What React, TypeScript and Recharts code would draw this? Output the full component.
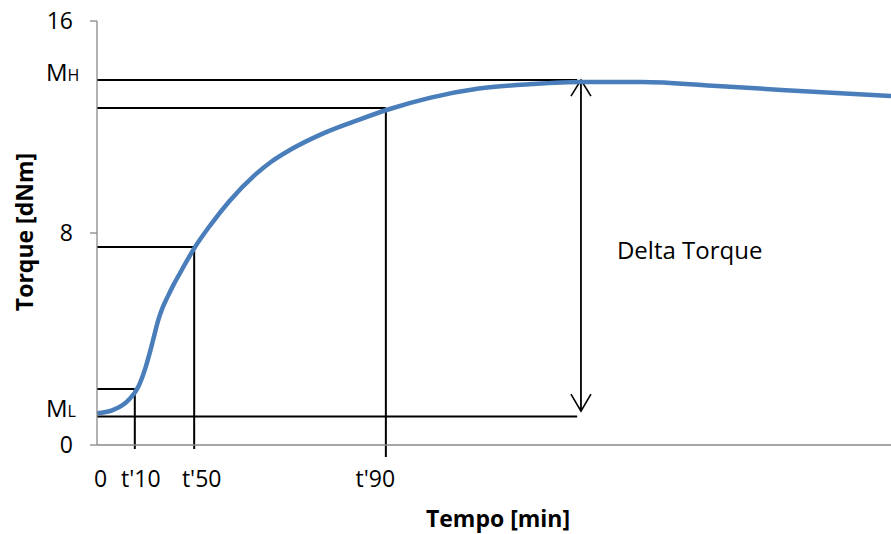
import { LineChart, Line, XAxis, YAxis, ReferenceLine } from 'recharts';

// cure curve: time [min] vs torque [dNm]
const TIME = [0, 0.4, 0.83, 1.09, 1.29, 1.46, 1.54, 1.62, 1.74, 1.87, 2.03, 2.2, 2.57, 3.0, 3.5, 4.2, 4.6, 5.1, 6.0, 6.9, 7.7, 8.8, 10.1, 11.5, 12.8, 14.4, 16.4, 18.1, 21];
const TORQUE = [1.2, 1.31, 1.69, 2.19, 2.95, 3.83, 4.28, 4.71, 5.2, 5.6, 6.06, 6.5, 7.42, 8.3, 9.2, 10.22, 10.68, 11.13, 11.77, 12.26, 12.66, 13.1, 13.45, 13.62, 13.7, 13.7, 13.55, 13.4, 13.17];

// characteristic points
const ML = 1.08;
const MH = 13.77;
const TQ10 = 2.11;
const TQ50 = 7.47;
const TQ90 = 12.72;
const T10 = 1.0;
const T50 = 2.57;
const T90 = 7.64;
const T_MH = 12.7;
const T_DELTA = 12.8;
const DELTA_LOW = 1.28;

const X_TICKS = [0, T10, T50, T90];
const X_LABELS = ['0', "t'10", "t'50", "t'90"];
const Y_TICKS = [0, ML, 8, MH, 16];

const FONT = '"Open Sans", sans-serif';
const AXIS = '#898989';

const data = TIME.map((t, i) => ({ t, torque: TORQUE[i] }));

// horizontal / vertical guide lines
const segments = [
  [{ x: 0, y: MH }, { x: T_MH, y: MH }],
  [{ x: 0, y: ML }, { x: T_MH, y: ML }],
  [{ x: 0, y: TQ90 }, { x: T90, y: TQ90 }],
  [{ x: T90, y: TQ90 }, { x: T90, y: -0.45 }],
  [{ x: 0, y: TQ50 }, { x: T50, y: TQ50 }],
  [{ x: T50, y: TQ50 }, { x: T50, y: -0.15 }],
  [{ x: 0, y: TQ10 }, { x: T10, y: TQ10 }],
  [{ x: T10, y: TQ10 }, { x: T10, y: -0.15 }],
];

const labelShift = [3.5, 6, 7.5, -10.5];

const XTick = (props: any) => {
  const { x, y, index } = props;
  return (
    <text x={x + labelShift[index]} y={y + 42} textAnchor="middle" fontSize={23} fontFamily={FONT} fill="#000">
      {X_LABELS[index]}
    </text>
  );
};

const YTick = (props: any) => {
  const { x, y, payload } = props;
  const v = payload.value;
  if (v === ML || v === MH) {
    return (
      <text x={x - 51} y={y + 1} fontFamily={FONT} fill="#000">
        <tspan fontSize={24}>M</tspan>
        <tspan fontSize={16}>{v === ML ? 'L' : 'H'}</tspan>
      </text>
    );
  }
  return (
    <g>
      <line x1={x - 7} x2={x} y1={y} y2={y} stroke={AXIS} strokeWidth={1.3} />
      <text x={x - 24} y={y} dy="0.36em" textAnchor="end" fontSize={23} fontFamily={FONT} fill="#000">
        {v}
      </text>
    </g>
  );
};

const DeltaArrow = (props: any) => {
  const { x1, y1, y2 } = props;
  const top = Math.min(y1, y2);
  const bottom = Math.max(y1, y2);
  return (
    <g>
      <line x1={x1} x2={x1} y1={top} y2={bottom} stroke="#000" strokeWidth={1.8} />
      <polyline points={`${x1 - 10},${top + 16} ${x1},${top} ${x1 + 10},${top + 16}`} fill="none" stroke="#000" strokeWidth={1.6} />
      <polyline points={`${x1 - 10},${bottom - 17} ${x1},${bottom} ${x1 + 10},${bottom - 17}`} fill="none" stroke="#000" strokeWidth={1.6} />
      <text x={x1 + 36} y={(top + bottom) / 2 + 13.5} fontSize={24} fontFamily={FONT} fill="#000">
        Delta Torque
      </text>
    </g>
  );
};

const XTitle = (props: any) => {
  const { viewBox } = props;
  return (
    <text x={viewBox.x + viewBox.width / 2 + 4} y={viewBox.y + 82} textAnchor="middle" fontSize={23} fontWeight="bold" fontFamily={FONT} fill="#000">
      Tempo [min]
    </text>
  );
};

const YTitle = (props: any) => {
  const { viewBox } = props;
  const cx = 23.5;
  const cy = viewBox.y + viewBox.height / 2 - 1;
  return (
    <text x={cx} y={cy} transform={`rotate(-90 ${cx} ${cy})`} textAnchor="middle" dominantBaseline="central" fontSize={23} fontWeight="bold" fontFamily={FONT} fill="#000">
      Torque [dNm]
    </text>
  );
};

export default function App() {
  return (
    <div style={{ fontFamily: FONT, width: 891, height: 534 }}>
      <style>{'html, body { margin: 0; padding: 0; overflow: hidden; }'}</style>
      <LineChart width={891} height={534} data={data} margin={{ top: 21, right: 0, bottom: 29, left: 37 }}>
        <XAxis
          dataKey="t"
          type="number"
          domain={[0, 21]}
          ticks={X_TICKS}
          interval={0}
          tickLine={false}
          tickSize={0}
          tickMargin={0}
          height={60}
          axisLine={{ stroke: AXIS, strokeWidth: 1.3 }}
          tick={<XTick />}
          label={{ content: <XTitle /> }}
        />
        <YAxis
          type="number"
          domain={[0, 16]}
          ticks={Y_TICKS}
          interval={0}
          tickLine={false}
          tickSize={0}
          tickMargin={0}
          width={60}
          axisLine={{ stroke: AXIS, strokeWidth: 1.3 }}
          tick={<YTick />}
          label={{ content: <YTitle /> }}
        />
        {segments.map((seg, i) => (
          <ReferenceLine key={i} segment={seg} stroke="#000" strokeWidth={2} ifOverflow="visible" />
        ))}
        <ReferenceLine
          segment={[{ x: T_DELTA, y: DELTA_LOW }, { x: T_DELTA, y: MH }]}
          ifOverflow="visible"
          shape={<DeltaArrow />}
        />
        <Line dataKey="torque" type="monotone" stroke="#4A7EBB" strokeWidth={4.5} dot={false} isAnimationActive={false} />
      </LineChart>
    </div>
  );
}
